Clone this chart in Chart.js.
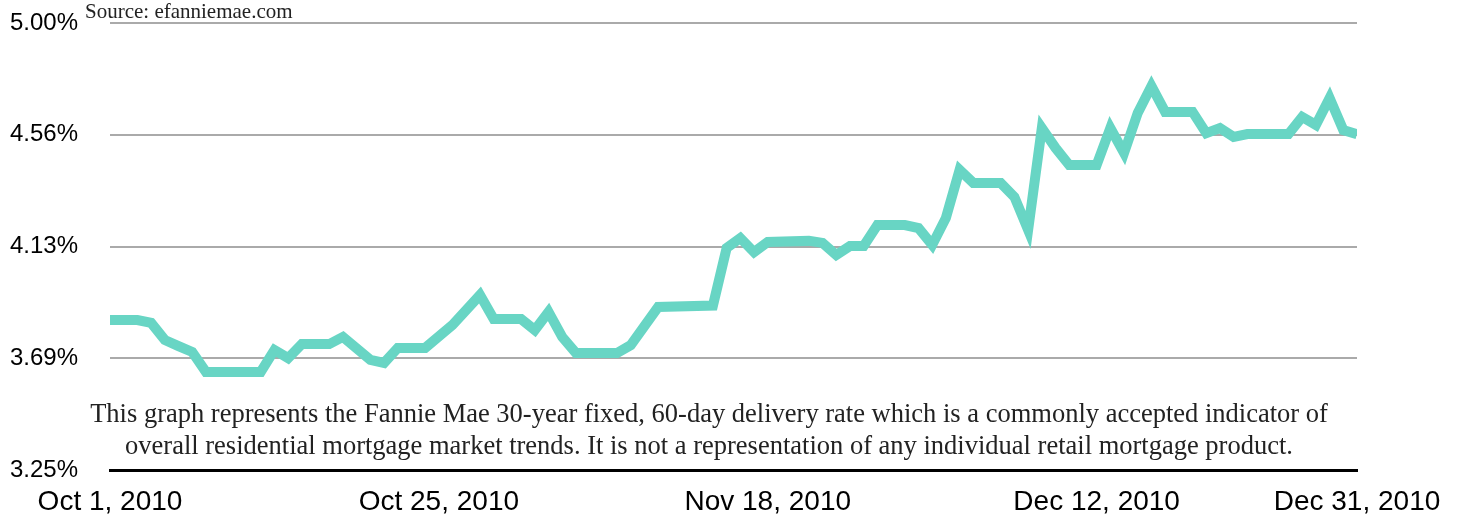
<!DOCTYPE html>
<html>
<head>
<meta charset="utf-8">
<script src="https://cdn.jsdelivr.net/npm/chart.js@4.4.1/dist/chart.umd.min.js"></script>
<style>
  body { margin: 0; background: #fff; }
  #wrap { position: relative; width: 1462px; height: 520px; }
  #source {
    position: absolute; left: 85px; top: 0px;
    font: 21px "Liberation Serif", serif; line-height: 22px; color: #222;
  }
  #note {
    position: absolute; left: 0; top: 397px; width: 1418px;
    text-align: center; font: 26.5px "Liberation Serif", serif; line-height: 32px; color: #222;
    pointer-events: none;
  }
</style>
</head>
<body>
<div id="wrap">
  <canvas id="rateChart" width="1462" height="520"></canvas>
  <div id="source">Source: efanniemae.com</div>
  <div id="note">This graph represents the Fannie Mae 30-year fixed, 60-day delivery rate which is a commonly accepted indicator of<br>overall residential mortgage market trends. It is not a representation of any individual retail mortgage product.</div>
</div>
<script>
  // days after Oct 1, 2010
  const dayOffsets = [0, 2, 3, 4, 5, 6, 7, 11, 12, 13, 14, 16, 17, 19, 20, 21, 23, 25, 27, 28,
    30, 31, 32, 33, 34, 37, 38, 40, 44, 45, 46, 47, 48, 51, 52, 53, 54, 55, 56, 58,
    59, 60, 61, 62, 63, 65, 66, 67, 68, 69, 70, 72, 73, 74, 75, 76, 77, 79, 80, 81,
    82, 83, 86, 87, 88, 89, 90, 91];
  const rates = [3.837, 3.837, 3.826, 3.759, 3.735, 3.712, 3.634, 3.634, 3.720, 3.688, 3.743, 3.743, 3.771, 3.681, 3.669, 3.728, 3.728, 3.818, 3.935, 3.841,
    3.841, 3.798, 3.869, 3.771, 3.708, 3.708, 3.739, 3.888, 3.894, 4.119, 4.158, 4.103, 4.143, 4.147, 4.139, 4.092, 4.127, 4.127, 4.209, 4.209,
    4.197, 4.131, 4.237, 4.425, 4.374, 4.374, 4.319, 4.190, 4.589, 4.511, 4.444, 4.444, 4.589, 4.491, 4.648, 4.753, 4.652, 4.652, 4.569, 4.589,
    4.554, 4.565, 4.565, 4.632, 4.601, 4.706, 4.581, 4.565];

  const xTickDays = [0, 24, 48, 72, 91];
  const xTickLabels = ["Oct 1, 2010", "Oct 25, 2010", "Nov 18, 2010", "Dec 12, 2010", "Dec 31, 2010"];
  const yTicks = [3.25, 3.6875, 4.125, 4.5625, 5.0];
  const yTickLabels = ["3.25%", "3.69%", "4.13%", "4.56%", "5.00%"];

  const points = dayOffsets.map((d, i) => ({ x: d, y: rates[i] }));

  new Chart(document.getElementById("rateChart"), {
    type: "line",
    data: {
      datasets: [{
        data: points,
        borderColor: "#68d5c4",
        borderWidth: 10,
        pointRadius: 0,
        tension: 0,
        fill: false
      }]
    },
    options: {
      responsive: false,
      animation: false,
      layout: { padding: { top: 23, right: 105, left: 10, bottom: 0 } },
      plugins: { legend: { display: false }, tooltip: { enabled: false } },
      scales: {
        x: {
          type: "linear",
          min: 0,
          max: 91,
          afterBuildTicks: (scale) => { scale.ticks = xTickDays.map(v => ({ value: v })); },
          afterFit: (scale) => { scale.height = 50; },
          ticks: {
            autoSkip: false,
            maxRotation: 0,
            padding: 7,
            color: "#000",
            font: { family: "'Liberation Sans', Arial, sans-serif", size: 28 },
            callback: (v) => xTickLabels[xTickDays.indexOf(v)]
          },
          grid: { display: false },
          border: { display: true, color: "#000", width: 3 }
        },
        y: {
          min: 3.25,
          max: 5.0,
          afterBuildTicks: (scale) => { scale.ticks = yTicks.map(v => ({ value: v })); },
          afterFit: (scale) => { scale.width = 100; },
          ticks: {
            crossAlign: "far",
            padding: 0,
            color: "#000",
            font: { family: "'Liberation Sans', Arial, sans-serif", size: 24 },
            callback: (v) => yTickLabels[yTicks.indexOf(v)]
          },
          grid: {
            drawTicks: false,
            color: (ctx) => ctx.tick && ctx.tick.value === 3.25 ? "#000" : "#aaaaaa",
            lineWidth: (ctx) => ctx.tick && ctx.tick.value === 3.25 ? 3 : 2
          },
          border: { display: false }
        }
      }
    }
  });
</script>
</body>
</html>
